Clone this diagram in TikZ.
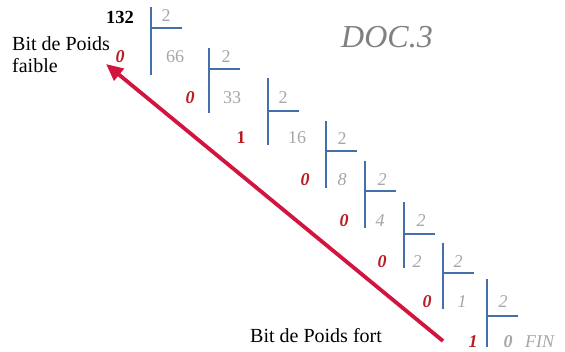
\documentclass[tikz,border=0pt]{standalone}
\usepackage{fontspec}
\setmainfont{Liberation Serif}
\usetikzlibrary{arrows.meta}
\definecolor{barblue}{HTML}{4470AA}
\definecolor{numgray}{HTML}{A6A6A6}
\definecolor{bitred}{HTML}{B81D24}
\definecolor{arrowred}{HTML}{D3143F}
\definecolor{docgray}{HTML}{808080}
\tikzset{
  bar/.style={barblue, line width=2.3pt},
  num/.style={numgray, inner sep=0pt, font=\fontsize{18}{18}\selectfont},
  numit/.style={num, font=\fontsize{18}{18}\selectfont\itshape},
  bit/.style={bitred, inner sep=0pt, font=\fontsize{18}{18}\selectfont\bfseries\itshape},
  lbl/.style={inner sep=0pt, align=left, font=\fontsize{20}{22}\selectfont},
  weight/.style={arrowred, line width=3.8pt, -{Triangle[length=17pt,width=15pt]}},
}
\begin{document}
\begin{tikzpicture}[x=1pt,y=-1pt]
\useasboundingbox (0,0) rectangle (565,351);

% division brackets: x of the stem / top / crossbar / bottom
\foreach \x/\t/\h/\b in {151/7/28/75, 209/48/69/113, 268/78/111/145,
    326/121/151/188, 365/161/191/228, 404/202/234/268,
    443/243/273/309, 487/279/316/347} {
  \draw[bar] (\x,\t) -- (\x,\b);
  \draw[bar] (\x,\h) -- (\x+31,\h);
}

% dividend
\node[inner sep=0pt, font=\fontsize{18.5}{18.5}\selectfont\bfseries] (n132) at (120,17) {132};

% divisors
\node[num]   (d0) at (166,16)  {2};
\node[num]   (d1) at (226,57)  {2};
\node[num]   (d2) at (283,98)  {2};
\node[num]   (d3) at (342,139) {2};
\node[numit] (d4) at (382,180) {2};
\node[numit] (d5) at (421,221) {2};
\node[numit] (d6) at (458,262) {2};
\node[numit] (d7) at (503,302) {2};

% quotients
\node[num]   (q0) at (175,57)  {66};
\node[num]   (q1) at (232,98)  {33};
\node[num]   (q2) at (297,138) {16};
\node[numit] (q3) at (342,180) {8};
\node[numit] (q4) at (380,221) {4};
\node[numit] (q5) at (417,262) {2};
\node[numit] (q6) at (462,302) {1};
\node[num, font=\fontsize{18}{18}\selectfont\bfseries\itshape] (q7) at (508,342) {0};
\node[numit, anchor=west] (fin) at (525,342) {FIN};

% remainders
\node[bit] (r0) at (120,57)  {0};
\node[bit] (r1) at (190,98)  {0};
\node[bit, font=\fontsize{18}{18}\selectfont\bfseries] (r2) at (241,138) {1};
\node[bit] (r3) at (305,180) {0};
\node[bit] (r4) at (344,221) {0};
\node[bit] (r5) at (382,262) {0};
\node[bit] (r6) at (427,302) {0};
\node[bit] (r7) at (473,342) {1};

% labels
\node[lbl, anchor=base west] (lsb) at (12,72) {Bit de Poids\\faible};
\node[lbl, anchor=base west] (msb) at (250,342) {Bit de Poids fort};
\node[docgray, inner sep=0pt, anchor=base west,
      font=\fontsize{32}{32}\selectfont\itshape] (doc) at (341,47) {DOC.3};

% reading direction
\coordinate (aS) at (443,341);
\coordinate (aE) at (106,64);
\draw[weight] (aS) -- (aE);
\end{tikzpicture}
\end{document}
